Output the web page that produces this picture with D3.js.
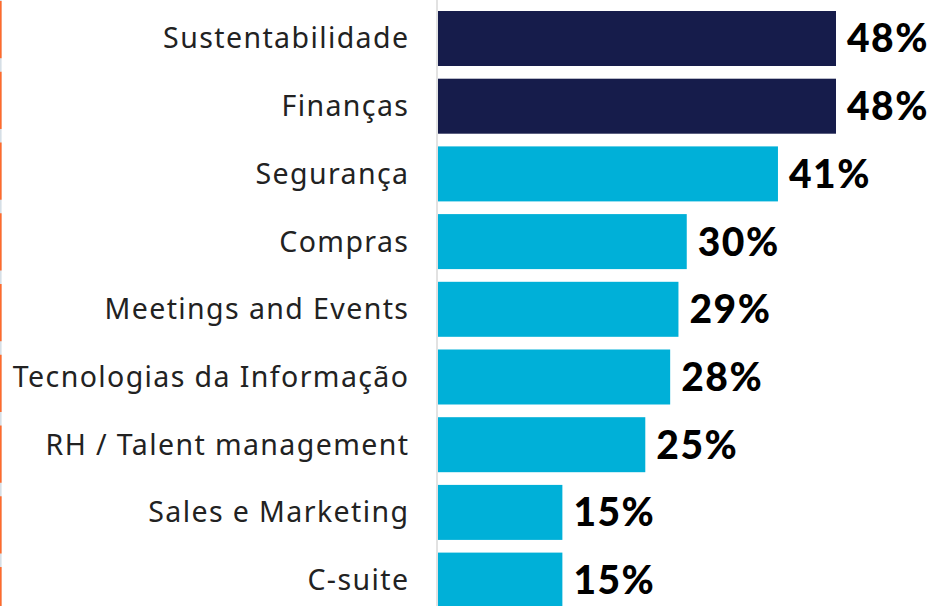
<!DOCTYPE html>
<html>
<head>
<meta charset="utf-8">
<script src="https://cdn.jsdelivr.net/npm/d3@7"></script>
<style>
  html, body { margin: 0; padding: 0; background: #fff; }
  svg { display: block; }
</style>
</head>
<body>
<svg id="chart"></svg>
<script>
var categories = ["Sustentabilidade", "Finanças", "Segurança", "Compras", "Meetings and Events",
                  "Tecnologias da Informação", "RH / Talent management", "Sales e Marketing", "C-suite"];
var values = [48, 48, 41, 30, 29, 28, 25, 15, 15];
var highlight = [true, true, false, false, false, false, false, false, false];

var width = 933,
    height = 606;

var svg = d3.select("#chart")
    .attr("width", width)
    .attr("height", height);

var x = d3.scaleLinear()
    .domain([0, 48])
    .range([438, 836]);

var y = d3.scaleBand()
    .domain(categories)
    .range([11, 607.6])
    .paddingInner(0.1876)
    .paddingOuter(0);

// left edge decoration
var edge = d3.scaleBand()
    .domain(categories)
    .range([1, 1 + 9 * 69.25])
    .paddingInner(13.25 / 69.25)
    .paddingOuter(0);

svg.append("rect")
    .attr("x", 0).attr("y", 0)
    .attr("width", 1.6).attr("height", height)
    .attr("fill", "#d6dfe6");

svg.selectAll("rect.edge")
    .data(categories)
    .enter().append("rect")
    .attr("class", "edge")
    .attr("x", 0)
    .attr("y", function(d) { return edge(d); })
    .attr("width", 1.6)
    .attr("height", edge.bandwidth())
    .attr("fill", "#ff6a2c");

svg.selectAll("rect.bar")
    .data(values)
    .enter().append("rect")
    .attr("class", "bar")
    .attr("x", x(0))
    .attr("y", function(d, i) { return y(categories[i]); })
    .attr("width", function(d) { return x(d) - x(0); })
    .attr("height", y.bandwidth())
    .attr("fill", function(d, i) { return highlight[i] ? "#161c4b" : "#00b0d8"; });

// axis line
svg.append("line")
    .attr("x1", 437).attr("x2", 437)
    .attr("y1", 0).attr("y2", height)
    .attr("stroke", "#d9d9d9")
    .attr("stroke-width", 1.5);

svg.selectAll("text.cat")
    .data(categories)
    .enter().append("text")
    .attr("class", "cat")
    .attr("x", 409.4)
    .attr("y", function(d) { return y(d) + y.bandwidth() / 2 + 10; })
    .attr("text-anchor", "end")
    .style("font-family", "'Noto Sans', sans-serif")
    .style("font-size", "28.5px")
    .style("letter-spacing", "1.4px")
    .style("fill", "#222")
    .text(function(d) { return d; });

svg.selectAll("text.val")
    .data(values)
    .enter().append("text")
    .attr("class", "val")
    .attr("x", function(d) { return x(d) + 11; })
    .attr("y", function(d, i) { return y(categories[i]) + y.bandwidth() / 2 + 14; })
    .style("font-family", "Lato, 'Noto Sans', sans-serif")
    .style("font-weight", "900")
    .style("font-size", "39px")
    .style("letter-spacing", "1.5px")
    .style("fill", "#000")
    .text(function(d) { return d + "%"; });
</script>
</body>
</html>
